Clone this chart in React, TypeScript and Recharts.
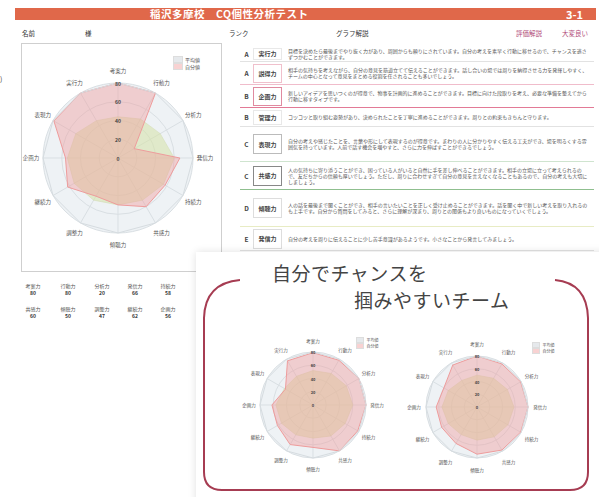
import React from 'react'
import { RadarChart, Radar, PolarGrid, PolarAngleAxis, PolarRadiusAxis } from 'recharts'

// 12 abilities shown on every radar
const CATEGORIES = ['考案力', '行動力', '分析力', '発信力', '持続力', '共感力', '傾聴力', '調整力', '継続力', '企画力', '表現力', '実行力']

// personal sheet (top left)
const SELF_MAIN = [80, 80, 20, 66, 58, 60, 50, 47, 62, 56, 79, 80]
const AVG_MAIN = [44, 48, 52, 60, 56, 52, 50, 52, 54, 54, 52, 46]

// team charts (bottom)
const SELF_TEAM_A = [79, 78, 80, 80, 78, 80, 64, 69, 62, 62, 48, 77]
const AVG_TEAM_A = [52, 55, 58, 60, 56, 54, 50, 52, 55, 56, 50, 50]
const SELF_TEAM_B = [80, 78, 79, 80, 79, 78, 74, 66, 64, 64, 60, 76]
const AVG_TEAM_B = [50, 52, 55, 58, 56, 54, 52, 50, 52, 55, 52, 48]

const SERIES_NAMES = ['平均値', '自分値']
const RADIUS_DOMAIN = [0, 80]

const STAT_LABELS = ['考案力', '行動力', '分析力', '発信力', '持続力', '共感力', '傾聴力', '調整力', '継続力', '企画力']
const STAT_VALUES = [80, 80, 20, 66, 58, 60, 50, 47, 62, 56]

const RANKS = ['A', 'A', 'B', 'B', 'C', 'C', 'D', 'E']
const ABILITIES = ['実行力', '説得力', '企画力', '管理力', '表現力', '共感力', '傾聴力', '発信力']
const DESCRIPTIONS = [
  '目標を決めたら最後までやり抜く力があり、周囲からも頼りにされています。自分の考えを素早く行動に移せるので、チャンスを逃さずつかむことができます。',
  '相手の気持ちを考えながら、自分の意見を筋道立てて伝えることができます。話し合いの場では周りを納得させる力を発揮しやすく、チームの中心となって意見をまとめる役割を任されることも多いでしょう。',
  '新しいアイデアを思いつくのが得意で、物事を計画的に進めることができます。目標に向けた段取りを考え、必要な準備を整えてから行動に移すタイプです。',
  'コツコツと取り組む姿勢があり、決められたことを丁寧に進めることができます。周りとの約束もきちんと守ります。',
  '自分の考えや感じたことを、言葉や形にして表現するのが得意です。まわりの人に分かりやすく伝える工夫ができ、場を明るくする雰囲気を持っています。人前で話す機会を増やすと、さらに力を伸ばすことができるでしょう。',
  '人の気持ちに寄り添うことができ、困っている人がいると自然に手を差し伸べることができます。相手の立場に立って考えられるので、友だちからの信頼も厚いでしょう。ただし、周りに合わせすぎて自分の意見を言えなくなることもあるので、自分の考えも大切にしましょう。',
  '人の話を最後まで聞くことができ、相手の言いたいことを正しく受け止めることができます。話を聞く中で新しい考えを取り入れるのも上手です。自分から質問をしてみると、さらに理解が深まり、周りとの関係もより良いものになっていくでしょう。',
  '自分の考えを周りに伝えることに少し苦手意識があるようです。小さなことから発言してみましょう。',
]
const ROW_HEIGHTS = [16, 23, 23, 19, 35, 28, 37, 24]
const ROW_LINES = ['#e2e2e2', '#f0bccb', '#e27a96', '#e2e2e2', '#cfe4cf', '#8fbf8f', '#e8ecc4', '#e2e2e2']
const BOX_LINES = ['#e8e8e8', '#f0c0cc', '#e08aa0', '#e8e8e8', '#bbbbbb', '#888888', '#dddddd', '#dddddd']

const FONT = '"Noto Sans CJK JP", "Noto Sans", sans-serif'
const PINK = '#ee9c9c'
const AVG_FILL = '#d6e2a6'

const build = (self: number[], avg: number[]) =>
  CATEGORIES.map((subject, i) => ({ subject, self: self[i], avg: avg[i] }))

const angleTick = (cx: number, cy: number, r: number, fs: number) => (props: any) => {
  const { x, y, payload } = props
  const dx = x - cx
  const dy = y - cy
  const d = Math.hypot(dx, dy) || 1
  return (
    <text x={cx + (dx / d) * r} y={cy + (dy / d) * r} textAnchor="middle" dominantBaseline="central" fontSize={fs} fill="#555" fontFamily={FONT}>
      {payload.value}
    </text>
  )
}

const radiusTick = (fs: number) => (props: any) => {
  const { x, y, payload } = props
  return (
    <text x={x} y={y} textAnchor="middle" dominantBaseline="central" fontSize={fs} fontWeight={700} fill="#444" fontFamily={FONT}>
      {payload.value}
    </text>
  )
}

type RadarProps = {
  data: { subject: string; self: number; avg: number }[]
  left: number
  top: number
  size: number
  radius: number
  labelRadius: number
  fs: number
}

function Spider({ data, left, top, size, radius, labelRadius, fs }: RadarProps) {
  const c = size / 2
  return (
    <div style={{ position: 'absolute', left, top, width: size, height: size }}>
      <div style={{ position: 'absolute', left: c - radius, top: c - radius, width: radius * 2, height: radius * 2, borderRadius: '50%', background: '#eef2f5' }} />
      <div style={{ position: 'absolute', left: 0, top: 0 }}>
        <RadarChart width={size} height={size} data={data} cx={c} cy={c} outerRadius={radius} startAngle={90} endAngle={-270} margin={{ top: 0, right: 0, bottom: 0, left: 0 }}>
          <PolarGrid gridType="circle" stroke="#d9dfe3" />
          <PolarAngleAxis dataKey="subject" tick={angleTick(c, c, labelRadius, fs)} tickLine={false} axisLine={{ stroke: '#d6dce0' }} />
          <Radar name={SERIES_NAMES[0]} dataKey="avg" stroke="#d0dab0" strokeWidth={0.5} fill={AVG_FILL} fillOpacity={0.55} isAnimationActive={false} />
          <Radar name={SERIES_NAMES[1]} dataKey="self" stroke={PINK} strokeWidth={1} fill="#f09c9c" fillOpacity={0.42} isAnimationActive={false} />
          <PolarRadiusAxis angle={90} domain={RADIUS_DOMAIN} tickCount={5} axisLine={false} tick={radiusTick(fs - 0.5)} />
        </RadarChart>
      </div>
    </div>
  )
}

function MiniLegend({ left, top, fs }: { left: number; top: number; fs: number }) {
  return (
    <div style={{ position: 'absolute', left, top, fontSize: fs, lineHeight: `${fs + 2}px`, color: '#555', fontFamily: FONT }}>
      {SERIES_NAMES.map((n, i) => (
        <div key={n} style={{ display: 'flex', alignItems: 'center' }}>
          <span style={{ display: 'inline-block', width: fs * 1.6, height: fs, marginRight: 2, background: i === 0 ? '#e6e9ec' : '#f8d2d2', border: '0.5px solid #ddd' }} />
          {n}
        </div>
      ))}
    </div>
  )
}

export default function App() {
  return (
    <div style={{ position: 'relative', width: 599, height: 497, background: '#fff', overflow: 'hidden', fontFamily: FONT }}>
      <style>{'body{margin:0}'}</style>

      {/* header */}
      <div style={{ position: 'absolute', left: 15, top: 8, width: 581, height: 12, background: '#e0684a' }} />
      <div style={{ position: 'absolute', left: 150, top: 7, fontSize: 10.5, lineHeight: '14px', color: '#fff', fontWeight: 700, letterSpacing: 0.5 }}>稲沢多摩校　CQ個性分析テスト</div>
      <div style={{ position: 'absolute', left: 566, top: 7, fontSize: 11, lineHeight: '14px', color: '#fff', fontWeight: 700 }}>3-1</div>

      <div style={{ position: 'absolute', top: 29, left: 0, width: 599, fontSize: 6.5, lineHeight: '8px', color: '#333' }}>
        <span style={{ position: 'absolute', left: 22 }}>名前</span>
        <span style={{ position: 'absolute', left: 85 }}>様</span>
        <span style={{ position: 'absolute', left: 229 }}>ランク</span>
        <span style={{ position: 'absolute', left: 336 }}>グラフ解説</span>
        <span style={{ position: 'absolute', left: 516, color: '#b04a78' }}>評価解説</span>
        <span style={{ position: 'absolute', left: 562, color: '#b04a78' }}>大変良い</span>
      </div>

      <div style={{ position: 'absolute', left: 0, top: 74, fontSize: 7, color: '#444' }}>)</div>

      {/* personal chart box */}
      <div style={{ position: 'absolute', left: 21, top: 43, width: 201, height: 229, border: '1px solid #cfcfcf', boxSizing: 'border-box' }} />
      <Spider data={build(SELF_MAIN, AVG_MAIN)} left={18} top={58} size={200} radius={75} labelRadius={87} fs={5.5} />
      <MiniLegend left={173} top={56} fs={5} />

      {/* numbers under chart */}
      {STAT_LABELS.map((l, i) => (
        <div key={l} style={{ position: 'absolute', left: [33, 68, 102, 135, 168][i % 5] - 12, top: i < 5 ? 282 : 305, width: 24, textAlign: 'center', fontSize: 5, lineHeight: '7px', color: '#555' }}>
          <div>{l}</div>
          <div style={{ color: '#333', fontWeight: 700 }}>{STAT_VALUES[i]}</div>
        </div>
      ))}

      {/* explanation table */}
      <div style={{ position: 'absolute', left: 240, top: 46, width: 354 }}>
        {RANKS.map((r, i) => (
          <div key={i} style={{ display: 'flex', alignItems: 'center', height: ROW_HEIGHTS[i], borderBottom: `1px solid ${ROW_LINES[i]}`, boxSizing: 'border-box' }}>
            <div style={{ width: 13, textAlign: 'center', fontSize: 6.5, fontWeight: 700, color: '#444' }}>{r}</div>
            <div style={{ width: 29, height: Math.min(ROW_HEIGHTS[i] - 4, 20), border: `1px solid ${BOX_LINES[i]}`, boxSizing: 'border-box', display: 'flex', alignItems: 'center', justifyContent: 'center', fontSize: 6, fontWeight: 700, color: '#444' }}>{ABILITIES[i]}</div>
            <div style={{ marginLeft: 6, width: 302, fontSize: 5, lineHeight: '6px', color: '#555' }}>{DESCRIPTIONS[i]}</div>
          </div>
        ))}
      </div>

      {/* team callout */}
      <div style={{ position: 'absolute', left: 196, top: 252, width: 420, height: 260, background: '#fff', boxShadow: '0 0 8px rgba(0,0,0,0.12)' }} />
      <svg style={{ position: 'absolute', left: 0, top: 0 }} width={599} height={497}>
        <path d="M 240 280 Q 205 283 204 318 L 204 472 Q 204 490 222 490 L 570 490 Q 588 490 588 472 L 588 318 Q 587 283 555 280" fill="none" stroke="#a63c52" strokeWidth={2} />
      </svg>
      <div style={{ position: 'absolute', left: 272, top: 261, fontSize: 19, lineHeight: '24px', color: '#444', letterSpacing: 0.5 }}>自分でチャンスを</div>
      <div style={{ position: 'absolute', left: 354, top: 288, fontSize: 19, lineHeight: '24px', color: '#444', letterSpacing: 0.5 }}>掴みやすいチーム</div>

      <Spider data={build(SELF_TEAM_A, AVG_TEAM_A)} left={238} top={330} size={150} radius={53} labelRadius={64} fs={4.5} />
      <MiniLegend left={356} top={337} fs={4} />
      <Spider data={build(SELF_TEAM_B, AVG_TEAM_B)} left={402} top={332} size={150} radius={51} labelRadius={63} fs={4.5} />
      <MiniLegend left={532} top={342} fs={4} />
    </div>
  )
}
